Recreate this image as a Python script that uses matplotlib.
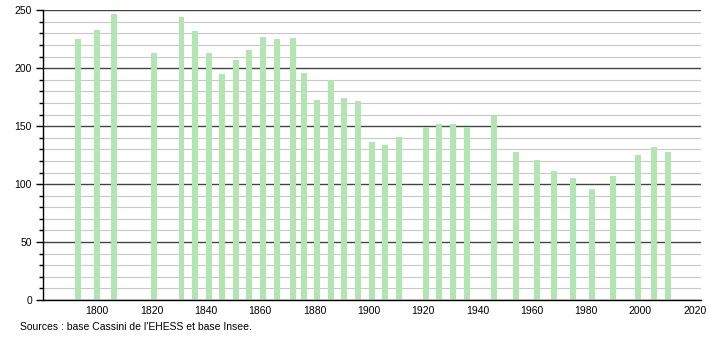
import matplotlib
matplotlib.use('Agg')
import matplotlib.pyplot as plt
from matplotlib.ticker import MultipleLocator

# Années de recensement et population
years = [1793, 1800, 1806, 1821, 1831, 1836, 1841, 1846, 1851, 1856,
         1861, 1866, 1872, 1876, 1881, 1886, 1891, 1896, 1901, 1906,
         1911, 1921, 1926, 1931, 1936, 1946, 1954, 1962, 1968, 1975,
         1982, 1990, 1999, 2005, 2010]
population = [225, 233, 247, 213, 244, 232, 213, 195, 207, 216,
              227, 225, 226, 196, 173, 190, 174, 172, 136, 134,
              141, 149, 152, 152, 149, 159, 128, 121, 111, 105,
              96, 107, 125, 132, 128]

source_text = "Sources : base Cassini de l'EHESS et base Insee."

plt.rcParams['font.family'] = ['Liberation Sans', 'DejaVu Sans']

fig = plt.figure(figsize=(7.1, 3.4), dpi=100)
ax = fig.add_axes([43 / 710, 40 / 340, 658 / 710, 289.7 / 340])

ax.bar(years, population, width=2.2, color='#b2e5b2', zorder=2)

ax.set_xlim(1780, 2022.3)
ax.set_ylim(0, 250)
ax.xaxis.set_major_locator(MultipleLocator(20))
ax.yaxis.set_major_locator(MultipleLocator(50))
ax.yaxis.set_minor_locator(MultipleLocator(10))
ax.set_xticks(range(1800, 2021, 20))

ax.grid(axis='y', which='major', color='#444444', linewidth=1.0, zorder=1)
ax.grid(axis='y', which='minor', color='#c8c8c8', linewidth=0.8, zorder=1)

for side in ('top', 'right'):
    ax.spines[side].set_visible(False)
ax.spines['left'].set_color('black')
ax.spines['bottom'].set_color('black')
ax.spines['left'].set_linewidth(1.0)
ax.spines['bottom'].set_linewidth(1.0)

ax.tick_params(axis='y', which='major', length=5, width=1, labelsize=7.5, pad=3)
ax.tick_params(axis='y', which='minor', length=3, width=1)
ax.tick_params(axis='x', which='major', length=0, labelsize=7.5, pad=4)

fig.text(20 / 710, 1 - 327 / 340, source_text, fontsize=7.5, va='center', ha='left')

fig.savefig('out.png', dpi=100)
